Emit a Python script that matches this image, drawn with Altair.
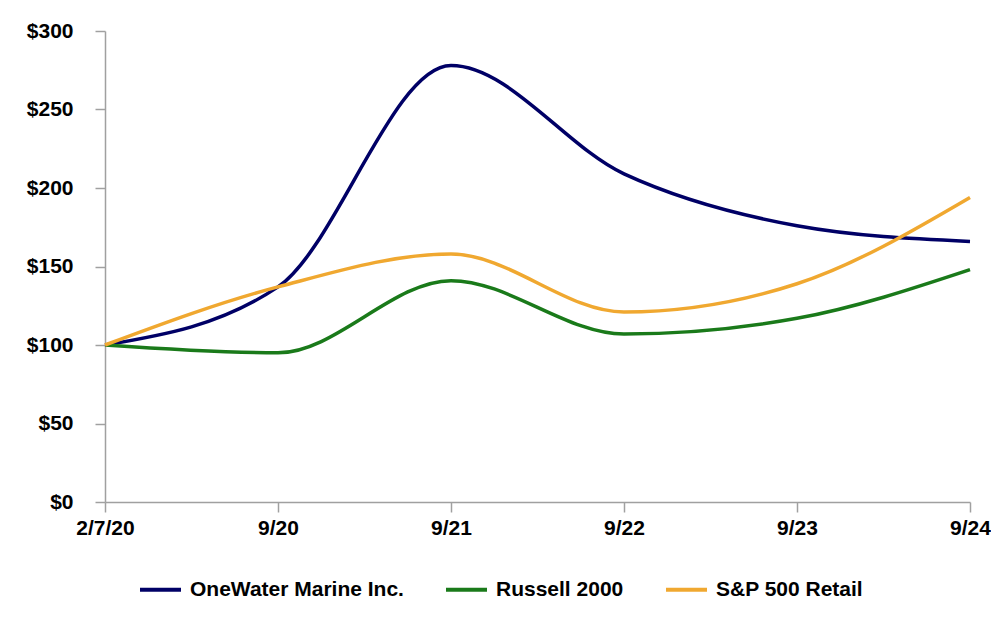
import altair as alt
import pandas as pd

dates = ["2/7/20", "9/20", "9/21", "9/22", "9/23", "9/24"]
onewater = [100, 137, 278, 209, 176, 166]
russell = [100, 95, 141, 107, 117, 148]
sp_retail = [100, 137, 158, 121, 139, 194]

series_names = ["OneWater Marine Inc.", "Russell 2000", "S&P 500 Retail"]
series_colors = ["#000066", "#1a7a1a", "#f0a830"]

rows = []
for name, vals in zip(series_names, [onewater, russell, sp_retail]):
    for i, (d, v) in enumerate(zip(dates, vals)):
        rows.append({"date": d, "value": v, "series": name, "order": i})
df = pd.DataFrame(rows)

FONT = "Liberation Sans"
FS = 21

chart = alt.Chart(df).mark_line(interpolate="monotone", strokeWidth=3.5).encode(
    x=alt.X("date:O", sort=dates, title=None,
            scale=alt.Scale(type="point", padding=0),
            axis=alt.Axis(labelAngle=0, tickSize=10, labelPadding=5)),
    y=alt.Y("value:Q", title=None,
            scale=alt.Scale(domain=[0, 300], nice=False),
            axis=alt.Axis(values=[0, 50, 100, 150, 200, 250, 300], format="$,.0f",
                          tickSize=10, labelPadding=22, grid=False)),
    color=alt.Color("series:N", sort=series_names,
                    scale=alt.Scale(domain=series_names, range=series_colors),
                    legend=alt.Legend(title=None, orient="none", direction="horizontal",
                                      legendX=33, legendY=536,
                                      symbolType="stroke", symbolSize=1681,
                                      symbolStrokeWidth=4, labelOffset=7,
                                      columnPadding=34, labelLimit=0)),
    order="order:Q",
).properties(
    width=865, height=471,
    padding={"left": 18, "top": 12, "right": 0, "bottom": 0},
).configure_view(stroke=None).configure_axis(
    domainColor="#a0a0a0", domainWidth=1.5, tickColor="#a0a0a0", tickWidth=1.5,
    labelFont=FONT, labelFontSize=FS, labelFontWeight="bold", labelColor="#000000",
).configure_legend(
    labelFont=FONT, labelFontSize=FS, labelFontWeight="bold", labelColor="#000000",
)

chart.save("out.html", embed_options={"renderer": "svg", "actions": False})
